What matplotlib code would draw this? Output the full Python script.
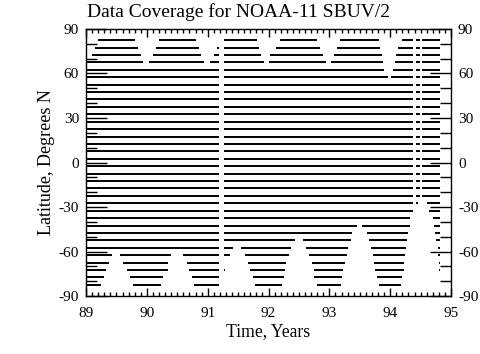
import matplotlib
matplotlib.use("Agg")
import matplotlib.pyplot as plt
from matplotlib.ticker import MultipleLocator

# latitude rows (band centres, degrees N), north to south
lat_rows = [82.5, 77.5, 72.5, 67.5, 62.5, 57.5, 52.5, 47.5, 42.5, 37.5, 32.5,
            27.5, 22.5, 17.5, 12.5, 7.5, 2.5, -2.5, -7.5, -12.5, -17.5, -22.5,
            -27.5, -32.5, -37.5, -42.5, -47.5, -52.5, -57.5, -62.5, -67.5,
            -72.5, -77.5, -82.5]
t_first = 89.0
t_last = 94.82

# outages seen at every latitude
global_gaps = [(91.18, 91.27), (94.38, 94.43), (94.49, 94.52)]

# northern polar night, listed from 82.5N southward: (gap start, gap end)
nh_1989 = [(88.9, 89.20), (88.9, 89.15), (88.9, 89.10)]
nh_1990 = [(89.81, 90.20), (89.86, 90.15), (89.90, 90.10), (89.94, 90.04)]
nh_1991 = [(90.81, 91.27), (90.86, 91.15), (90.89, 91.11), (90.94, 91.04)]
nh_1992 = [(91.81, 92.19), (91.84, 92.12), (91.88, 92.03), (91.93, 92.00)]
nh_1993 = [(92.80, 93.18), (92.85, 93.13), (92.89, 93.08), (92.95, 93.02)]
nh_1994 = [(93.82, 94.19), (93.83, 94.13), (93.86, 94.10), (93.88, 94.08),
           (93.90, 94.05), (93.97, 94.01)]

# southern polar night, listed from 82.5S northward: (gap start, gap end)
sh_1989 = [(89.24, 89.77), (89.30, 89.72), (89.33, 89.67), (89.37, 89.61),
           (89.42, 89.56)]
sh_1990 = [(90.23, 90.78), (90.27, 90.74), (90.34, 90.70), (90.35, 90.66),
           (90.39, 90.60)]
sh_1991 = [(91.25, 91.78), (91.25, 91.74), (91.28, 91.70), (91.25, 91.67),
           (91.36, 91.61), (91.42, 91.54)]
sh_1992 = [(92.22, 92.80), (92.255, 92.75), (92.27, 92.74), (92.29, 92.71),
           (92.33, 92.67), (92.37, 92.62), (92.44, 92.56)]
sh_1993 = [(93.19, 93.81), (93.20, 93.78), (93.23, 93.75), (93.26, 93.74),
           (93.29, 93.72), (93.30, 93.69), (93.35, 93.66), (93.38, 93.62),
           (93.45, 93.53)]
sh_1994 = [(94.17, 95.0), (94.19, 95.0), (94.22, 94.81), (94.23, 94.80),
           (94.24, 94.79), (94.26, 94.78), (94.27, 94.75), (94.30, 94.74),
           (94.32, 94.72), (94.33, 94.70), (94.37, 94.64), (94.45, 94.60)]

row_gaps = {lat: list(global_gaps) for lat in lat_rows}
for season in (nh_1989, nh_1990, nh_1991, nh_1992, nh_1993, nh_1994):
    for lat, gap in zip(lat_rows, season):
        row_gaps[lat].append(gap)
for season in (sh_1989, sh_1990, sh_1991, sh_1992, sh_1993, sh_1994):
    for lat, gap in zip(lat_rows[::-1], season):
        row_gaps[lat].append(gap)


def segments(gaps):
    segs, t = [], t_first
    for g0, g1 in sorted(gaps):
        if g0 > t:
            segs.append((t, min(g0, t_last)))
        t = max(t, g1)
    if t < t_last:
        segs.append((t, t_last))
    return [s for s in segs if s[1] > s[0]]


plt.rcParams["font.family"] = ["Liberation Serif", "DejaVu Serif"]
plt.rcParams["axes.unicode_minus"] = False
fig = plt.figure(figsize=(4.8, 3.54), dpi=100)
ax = fig.add_axes([0.1792, 0.1638, 0.7604, 0.7543])

for lat in lat_rows:
    for t0, t1 in segments(row_gaps[lat]):
        ax.hlines(lat, t0, t1, color="black", lw=1.4, capstyle="butt")

ax.set_xlim(89, 95)
ax.set_ylim(-90, 90)
ax.xaxis.set_major_locator(MultipleLocator(1))
ax.xaxis.set_minor_locator(MultipleLocator(0.1))
ax.yaxis.set_major_locator(MultipleLocator(30))
ax.yaxis.set_minor_locator(MultipleLocator(10))
ax.tick_params(which="both", direction="in", top=True, right=True,
               labelright=True, labelsize=11, width=1, color="black")
ax.tick_params(axis="x", which="major", length=6, pad=8)
ax.tick_params(axis="x", which="minor", length=3)
ax.tick_params(axis="y", which="major", length=15, pad=5)
ax.tick_params(axis="y", which="minor", length=8)
for sp in ax.spines.values():
    sp.set_linewidth(1)

ax.set_xlabel("Time, Years", fontsize=12.7, labelpad=2)
ax.set_ylabel("Latitude, Degrees N", fontsize=13, labelpad=3)
fig.text(0.497, 0.965, "Data Coverage for NOAA-11 SBUV/2", ha="center",
         va="center", fontsize=14)

fig.savefig("out.png", dpi=100)
